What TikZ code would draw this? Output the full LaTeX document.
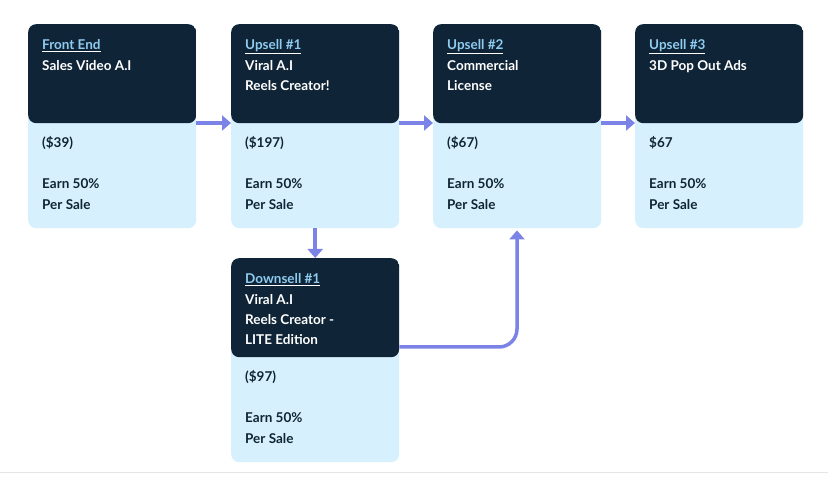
\documentclass[tikz,border=0pt]{standalone}
\usepackage{fontspec}
\setmainfont{Lato}
\usetikzlibrary{arrows.meta}
\definecolor{dk}{HTML}{0F2537}
\definecolor{lt}{HTML}{D6F1FD}
\definecolor{lk}{HTML}{8FCBEF}
\definecolor{ar}{HTML}{7C83E6}
\tikzset{
  card/.style={minimum width=168pt,minimum height=204pt,inner sep=0pt,rounded corners=8pt,fill=lt,anchor=north west,
    path picture={\fill[dk] (path picture bounding box.north west) rectangle ([yshift=-99pt]path picture bounding box.north east);}},
  txt/.style={anchor=base west,inner sep=0pt,font=\bfseries\fontsize{13.5}{15}\selectfont,text=white},
  txd/.style={txt,text=dk},
  flow/.style={draw=ar,line width=3.5pt,-{Triangle[length=9pt,width=15pt]}}
}
\newcommand{\lnk}[1]{\underline{\textcolor{lk}{#1}}}
\begin{document}
\begin{tikzpicture}[x=1pt,y=1pt]
\useasboundingbox (0,0) rectangle (828,489);
\fill[white] (0,0) rectangle (828,489);
\draw[gray!20,line width=0.8pt] (0,17) -- (828,17);
\node[card] (a) at (28,465) {};
\node[card] (b) at (231,465) {};
\node[card] (c) at (433,465) {};
\node[card] (d) at (635,465) {};
\node[card] (e) at (231,231) {};
% card a
\node[txt] (a1) at (42,439) {\lnk{Front End}};
\node[txt] (a2) at (42,418) {Sales Video A.I};
\node[txd] (a3) at (42,341) {(\$39)};
\node[txd] (a4) at (42,300) {Earn 50\%};
\node[txd] (a5) at (42,279) {Per Sale};
% card b
\node[txt] (b1) at (245,439) {\lnk{Upsell \#1}};
\node[txt] (b2) at (245,418) {Viral A.I};
\node[txt] (b3) at (245,398) {Reels Creator!};
\node[txd] (b4) at (245,341) {(\$197)};
\node[txd] (b5) at (245,300) {Earn 50\%};
\node[txd] (b6) at (245,279) {Per Sale};
% card c
\node[txt] (c1) at (447,439) {\lnk{Upsell \#2}};
\node[txt] (c2) at (447,418) {Commercial};
\node[txt] (c3) at (447,398) {License};
\node[txd] (c4) at (447,341) {(\$67)};
\node[txd] (c5) at (447,300) {Earn 50\%};
\node[txd] (c6) at (447,279) {Per Sale};
% card d
\node[txt] (d1) at (649,439) {\lnk{Upsell \#3}};
\node[txt] (d2) at (649,418) {3D Pop Out Ads};
\node[txd] (d4) at (649,341) {\$67};
\node[txd] (d5) at (649,300) {Earn 50\%};
\node[txd] (d6) at (649,279) {Per Sale};
% card e
\node[txt] (e1) at (245,205) {\lnk{Downsell \#1}};
\node[txt] (e2) at (245,184) {Viral A.I};
\node[txt] (e3) at (245,164) {Reels Creator -};
\node[txt] (e4) at (245,144) {LITE Edition};
\node[txd] (e5) at (245,107) {(\$97)};
\node[txd] (e6) at (245,66) {Earn 50\%};
\node[txd] (e7) at (245,45) {Per Sale};
% connectors
\draw[flow] ([yshift=-99pt]a.north east) -- ([yshift=-99pt]b.north west);
\draw[flow] ([yshift=-99pt]b.north east) -- ([yshift=-99pt]c.north west);
\draw[flow] ([yshift=-99pt]c.north east) -- ([yshift=-99pt]d.north west);
\draw[flow] (b.south) -- (e.north);
\coordinate (k) at (517,142);
\draw[flow,rounded corners=18pt] ([yshift=-89pt]e.north east) -- (k) -- ([xshift=84pt,yshift=-2pt]c.south west);
\end{tikzpicture}
\end{document}
